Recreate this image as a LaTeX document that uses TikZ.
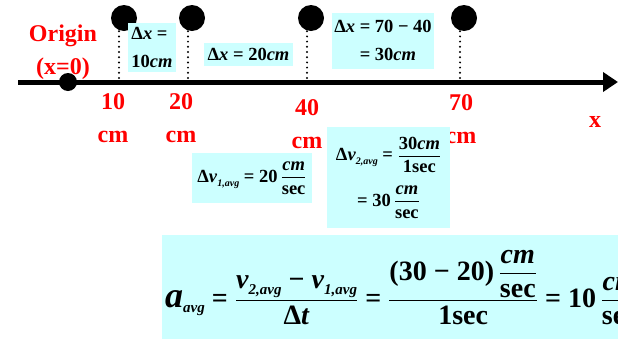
\documentclass[tikz,border=0pt]{standalone}
\usepackage{fontspec}
\setmainfont{Liberation Serif}
\usetikzlibrary{arrows.meta}
\definecolor{boxcyan}{HTML}{CCFFFF}
\newcommand{\bi}[1]{\textbf{\textit{#1}}}
\newcommand{\lowtxt}[2][10]{\raisebox{-0.45ex}{\fontsize{#1}{#1}\selectfont\bi{#2}}}
\newcommand{\fr}[2]{$\displaystyle{\hbox{#1}\above 1pt\hbox{#2}}$}
\tikzset{
  ball/.style={circle, fill=black, minimum size=26pt, inner sep=0pt},
  dotline/.style={line width=2.2pt, dash pattern=on 0pt off 5.2pt, line cap=round},
  redlab/.style={text=red, align=center, font=\fontsize{24}{33}\selectfont\bfseries},
  eqbox/.style={fill=boxcyan, inner sep=0pt, font=\fontsize{18.5}{28}\selectfont\bfseries},
}
\begin{document}
\begin{tikzpicture}[x=1pt, y=-1pt]
    \useasboundingbox (0,0) rectangle (618,338);
    \clip (0,0) rectangle (618,338);
    % Axis
    \coordinate (xstart) at (18,82);
    \coordinate (xend) at (618,82);
    \draw[line width=5pt, -{Triangle[length=15pt, width=19pt]}] (xstart) -- (xend);
    \node[ball, minimum size=18pt] (origin) at (68,82) {};

    % Balls
    \node[ball] (ball1) at (124,18) {};
    \node[ball] (ball2) at (192,18) {};
    \node[ball] (ball3) at (311,18) {};
    \node[ball] (ball4) at (464,18) {};
    \coordinate (foot1) at (119,78);
    \coordinate (foot2) at (188,78);
    \coordinate (foot3) at (307,78);
    \coordinate (foot4) at (460,78);
    \draw[dotline] (foot1 |- ball1.south) -- (foot1);
    \draw[dotline] (foot2 |- ball2.south) -- (foot2);
    \draw[dotline] (foot3 |- ball3.south) -- (foot3);
    \draw[dotline] (foot4 |- ball4.south) -- (foot4);

    % Labels
    \node[redlab] (orglab) at (63,52) {Origin\\(x=0)};
    \node[redlab] (lab10) at (113,118) {10\\cm};
    \node[redlab] (lab20) at (181,118) {20\\cm};
    \node[redlab] (lab40) at (307,124) {40\\cm};
    \node[redlab] (lab70) at (461,119) {70\\cm};
    \node[redlab] (xlab) at (595,122) {x};

    % Boxes
    \node[eqbox, minimum width=48pt, minimum height=49pt, align=left] (dx1) at (152,47.5)
        {Δ\bi{x} =\\10\bi{cm}};
    \node[eqbox, minimum width=89pt, minimum height=23pt] (dx2) at (248.5,54)
        {Δ\bi{x} = 20\bi{cm}};
    \node[eqbox, minimum width=102pt, minimum height=54pt] (dx3) at (383,41)
        {\begin{tabular}{@{}r@{}l@{}}Δ\bi{x} =&\ 70 − 40\\ =&\ 30\bi{cm}\end{tabular}};
    \node[eqbox, minimum width=120pt, minimum height=50pt] (dv1) at (252,178)
        {Δ\bi{v}\lowtxt{1,avg} = 20\,\fr{\bi{cm}}{sec}};
    \node[eqbox, minimum width=123pt, minimum height=101pt, align=center] (dv2) at (388.5,177.5)
        {Δ\bi{v}\lowtxt{2,avg} = \fr{30\bi{cm}}{1sec}\\[12pt] = 30\,\fr{\bi{cm}}{sec}};
    \node[eqbox, anchor=north west, minimum height=104pt, inner xsep=3pt,
          font=\fontsize{28}{30}\selectfont\bfseries] (accel) at (162,235)
        {\bi{\fontsize{36}{36}\selectfont a}\lowtxt[15]{avg} = \fr{\bi{v}\lowtxt[15]{2,avg} − \bi{v}\lowtxt[15]{1,avg}}{Δ\bi{t}} = \fr{(30 − 20)\,\fr{\bi{cm}}{sec}}{1sec} = 10\,\fr{\bi{cm}}{sec}};
\end{tikzpicture}
\end{document}
